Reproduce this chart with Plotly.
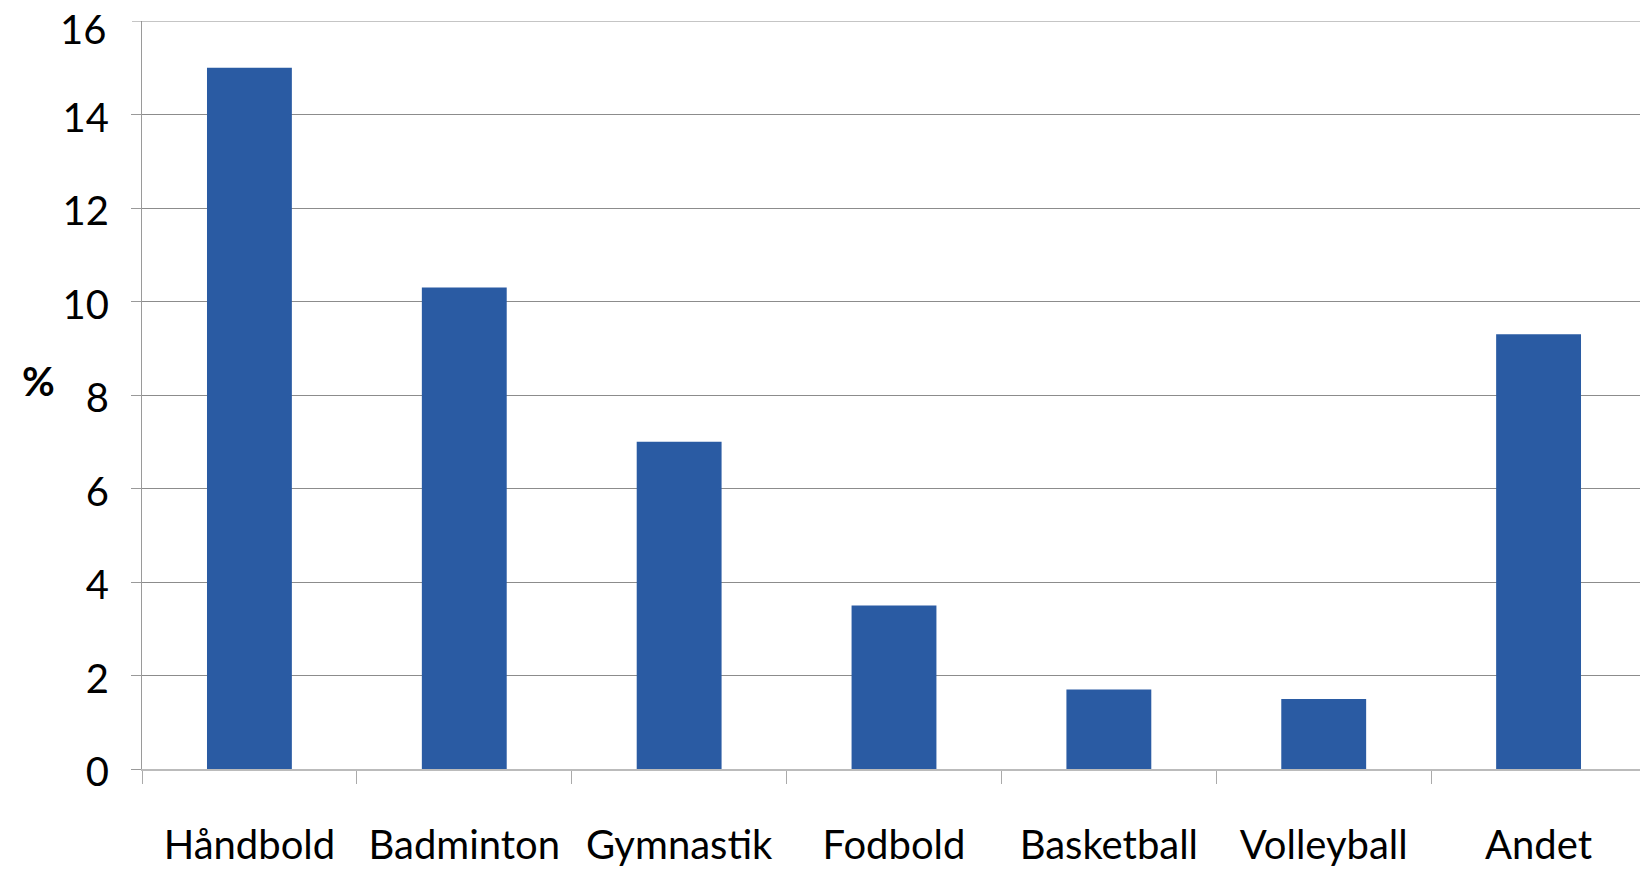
import plotly.graph_objects as go

categories = ["Håndbold", "Badminton", "Gymnastik", "Fodbold", "Basketball", "Volleyball", "Andet"]
values = [15.0, 10.3, 7.0, 3.5, 1.7, 1.5, 9.3]
y_ticks = [0, 2, 4, 6, 8, 10, 12, 14, 16]

fig = go.Figure(go.Bar(x=categories, y=values, marker=dict(color="#2A5BA3", line=dict(width=0)), width=0.395))

font = dict(family="Lato, sans-serif", size=40, color="#000000")
grid_color = "#8C8C8C"
plot_w = 1640 - 134 - 2

fig.update_layout(
    width=1640, height=861,
    margin=dict(l=134, r=2, t=13, b=100, autoexpand=False),
    paper_bgcolor="white", plot_bgcolor="white",
    showlegend=False,
    font=font,
    bargap=0.6,
)
fig.update_yaxes(
    range=[0, y_ticks[-1]], tickvals=y_ticks[:-1], showgrid=True, gridcolor=grid_color, gridwidth=1,
    showline=True, linecolor="#9A9A9A", linewidth=1,
    ticks="outside", ticklen=10, tickcolor="#9A9A9A", ticklabelstandoff=14, ticklabelshift=3,
    zeroline=False, tickfont=font, automargin=False,
)
fig.update_xaxes(
    showline=True, linecolor="#BBBBBB", linewidth=2,
    ticks="outside", ticklen=13, tickcolor="#AAAAAA", tickson="boundaries",
    tickfont=font, ticklabelstandoff=40, automargin=False,
)
# top gridline and its label (plotly drops the tick lying on the plot edge)
fig.add_shape(type="line", xref="paper", yref="y", x0=-10 / plot_w, x1=1,
              y0=y_ticks[-1], y1=y_ticks[-1], line=dict(color=grid_color, width=1))
fig.add_annotation(text=str(y_ticks[-1]), xref="paper", yref="y", x=-34 / plot_w, y=y_ticks[-1],
                   xanchor="right", yanchor="top", showarrow=False, yshift=18, font=font)
fig.add_annotation(text="<b>%</b>", xref="paper", yref="y", x=-0.0685, y=8.3,
                   xanchor="center", yanchor="middle", showarrow=False,
                   font=dict(family="Lato, sans-serif", size=40, color="#000"))

fig.write_html("out.html")
